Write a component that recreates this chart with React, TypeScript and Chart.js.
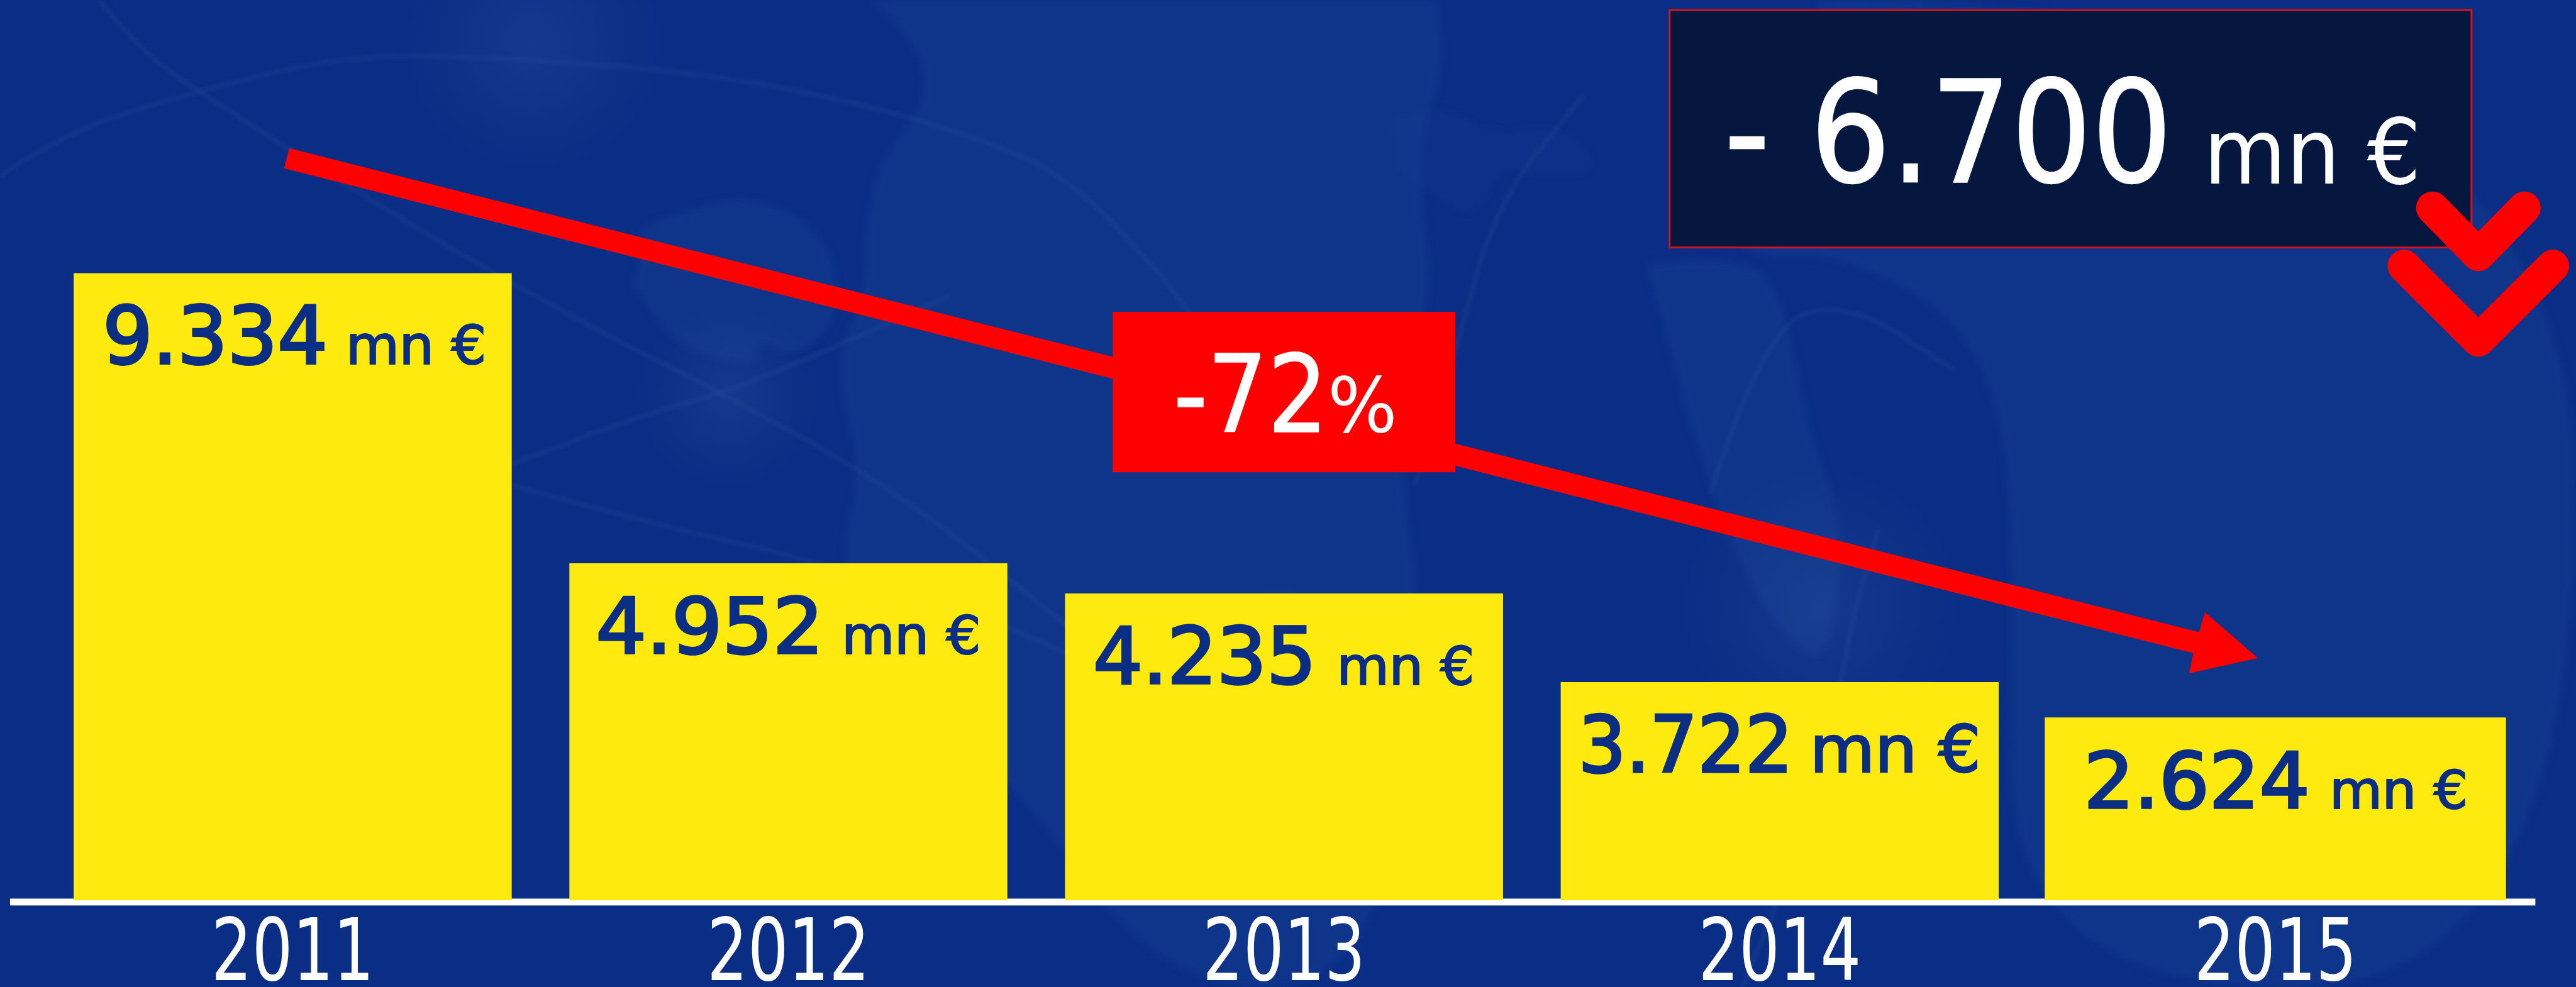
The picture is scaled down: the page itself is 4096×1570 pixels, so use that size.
import React, { useEffect, useRef } from "react";
import { Chart, registerables } from "chart.js";

Chart.register(...registerables);

const WIDTH = 4096;
const HEIGHT = 1570;
const S = 4096 / 4880;

// Data
const years = ["2011", "2012", "2013", "2014", "2015"];
const printedValues = ["9.334", "4.952", "4.235", "3.722", "2.624"];
const unitLabel = "mn €";
// Bar heights as drawn in the picture (they are not strictly proportional to the printed values)
const barHeights = [9334, 5013, 4565, 3245, 2719];
const axisMax = 13404;
const totalDrop = "- 6.700";
const percentDrop = "-72";
const percentSign = "%";

const FONT = '"DejaVu Sans Condensed"';

type Ctx = CanvasRenderingContext2D;

function fitText(ctx: Ctx, text: string, x0: number, x1: number, top: number, base: number, thick: number, color: string) {
  ctx.save();
  ctx.font = `normal 200px ${FONT}, "DejaVu Sans", sans-serif`;
  ctx.textBaseline = "alphabetic";
  ctx.textAlign = "left";
  ctx.fillStyle = color;
  ctx.strokeStyle = color;
  ctx.lineJoin = "miter";
  const m = ctx.measureText(text);
  const w = m.actualBoundingBoxRight + m.actualBoundingBoxLeft + thick;
  const h = m.actualBoundingBoxAscent + m.actualBoundingBoxDescent + thick;
  const sx = ((x1 - x0) * S) / w;
  const sy = ((base - top) * S) / h;
  ctx.translate(x0 * S + (m.actualBoundingBoxLeft + thick / 2) * sx, base * S - (m.actualBoundingBoxDescent + thick / 2) * sy);
  ctx.scale(sx, sy);
  ctx.fillText(text, 0, 0);
  if (thick > 0) {
    ctx.lineWidth = thick;
    ctx.strokeText(text, 0, 0);
  }
  ctx.restore();
}

function poly(ctx: Ctx, pts: number[][], smooth = true) {
  ctx.beginPath();
  ctx.moveTo(pts[0][0] * S, pts[0][1] * S);
  if (!smooth) {
    pts.slice(1).forEach((p) => ctx.lineTo(p[0] * S, p[1] * S));
    return;
  }
  for (let i = 1; i < pts.length - 1; i++) {
    const mx = ((pts[i][0] + pts[i + 1][0]) / 2) * S;
    const my = ((pts[i][1] + pts[i + 1][1]) / 2) * S;
    ctx.quadraticCurveTo(pts[i][0] * S, pts[i][1] * S, mx, my);
  }
  const l = pts[pts.length - 1];
  ctx.lineTo(l[0] * S, l[1] * S);
}

function glow(ctx: Ctx, x: number, y: number, r: number, color: string) {
  const g = ctx.createRadialGradient(x * S, y * S, 0, x * S, y * S, r * S);
  g.addColorStop(0, color);
  g.addColorStop(1, "rgba(60,100,170,0)");
  ctx.fillStyle = g;
  ctx.fillRect((x - r) * S, (y - r) * S, 2 * r * S, 2 * r * S);
}

const lands: number[][][] = [
  [[1650,0],[1720,60],[1760,160],[1720,240],[1670,300],[1640,420],[1640,560],[1580,680],[1630,900],[1590,1050],[1650,1300],[1900,1450],[2200,1871],[2600,1871],[2700,1200],[2640,800],[2720,560],[2680,300],[2740,120],[2720,0]],
  [[1220,430],[1350,375],[1480,385],[1580,470],[1590,610],[1500,680],[1430,640],[1440,700],[1280,660],[1200,540]],
  [[3120,500],[3300,480],[3380,560],[3420,800],[3500,1000],[3460,1300],[3300,1100],[3200,800]],
  [[3450,0],[4880,0],[4880,1871],[3800,1871],[3820,1000],[3760,640],[3500,480],[3280,490],[3200,300],[3400,150]],
];
const faintLands: number[][][] = [
  [[2640,230],[2720,190],[2830,260],[2960,230],[3040,330],[2900,330],[2840,310],[2800,420],[2700,360],[2650,320]],
];
const arcs: number[][][] = [
  [[0,334],[120,250],[373,173],[650,105],[934,107],[1350,140],[1634,197],[1850,260],[2023,334],[2200,520],[2256,597]],
  [[187,0],[260,90],[373,173],[800,440],[1100,610],[1369,746],[1712,936],[2100,1250]],
  [[970,880],[1200,790],[1369,746],[1600,650],[1800,560]],
  [[970,920],[1260,1000],[1500,1050],[1900,1180],[2100,1280]],
  [[2680,920],[2750,700],[2830,390],[3000,180]],
  [[3240,936],[3340,620],[3500,570],[3700,700]],
  [[3300,1871],[3460,1500],[3500,1200],[3560,1000]],
  [[2050,1500],[2200,1400],[2450,1280],[2600,1380],[2750,1500]],
];
const glows: number[][] = [
  [1010, 80, 240], [1380, 750, 170], [3450, 1150, 260], [2420, 1260, 150],
];

const backgroundPlugin = {
  id: "background",
  beforeDraw(chart: Chart) {
    const ctx = chart.ctx as Ctx;
    ctx.save();
    ctx.fillStyle = "#0a2e85";
    ctx.fillRect(0, 0, WIDTH, HEIGHT);
    ctx.filter = "blur(6px)";
    ctx.fillStyle = "rgba(30,70,155,0.3)";
    lands.forEach((p) => {
      poly(ctx, p);
      ctx.closePath();
      ctx.fill();
    });
    ctx.fillStyle = "rgba(30,70,155,0.16)";
    faintLands.forEach((p) => {
      poly(ctx, p);
      ctx.closePath();
      ctx.fill();
    });
    ctx.filter = "blur(3px)";
    ctx.strokeStyle = "rgba(70,108,180,0.2)";
    ctx.lineWidth = 5;
    arcs.forEach((p) => {
      poly(ctx, p);
      ctx.stroke();
    });
    ctx.filter = "none";
    glows.forEach((p) => glow(ctx, p[0], p[1], p[2], "rgba(60,100,170,0.2)"));
    ctx.restore();
  },
};

const baselinePlugin = {
  id: "baseline",
  beforeDatasetsDraw(chart: Chart) {
    const ctx = chart.ctx as Ctx;
    ctx.save();
    ctx.fillStyle = "#ffffff";
    ctx.fillRect(19 * S, 1703 * S, (4803 - 19) * S, 13 * S);
    ctx.restore();
  },
};

// Where each printed label sits, measured from its bar's top-left corner
const digitBoxes = [
  [61, 475, 57, 175], [54, 469, 59, 174], [57, 465, 58, 175], [41, 428, 57, 174], [82, 496, 59, 175],
];
const unitBoxes = [
  [523, 776, 96], [523, 774, 97], [522, 770, 97], [481, 789, 78], [547, 796, 97],
];
const NAVY = "#0b2e85";

const labelsPlugin = {
  id: "labels",
  afterDatasetsDraw(chart: Chart) {
    const ctx = chart.ctx as Ctx;
    years.forEach((_, i) => {
      const meta = chart.getDatasetMeta(i < 4 ? 0 : 1);
      const el: any = meta.data[i];
      const left = (el.x - el.width / 2) / S;
      const top = el.y / S;
      const d = digitBoxes[i];
      const u = unitBoxes[i];
      fitText(ctx, printedValues[i], left + d[0], left + d[1], top + d[2], top + d[3], 6, NAVY);
      fitText(ctx, unitLabel, left + u[0], left + u[1], top + u[2], top + d[3], 5, NAVY);
    });

    ctx.save();
    // trend arrow
    ctx.fillStyle = "#ff0000";
    poly(ctx, [[548,281],[4166,1198],[4177,1160],[4277,1247],[4147,1276],[4155,1238],[538,319]], false);
    ctx.closePath();
    ctx.fill();
    ctx.fillRect(2108 * S, 591 * S, 649 * S, 304 * S);

    // total box
    ctx.fillStyle = "#05173f";
    ctx.fillRect(3163 * S, 19 * S, 1519 * S, 450 * S);
    ctx.strokeStyle = "#d8101c";
    ctx.lineWidth = 3;
    ctx.strokeRect(3163 * S, 19 * S, 1519 * S, 450 * S);

    // chevrons
    ctx.strokeStyle = "#ff0000";
    ctx.lineCap = "round";
    ctx.lineJoin = "round";
    ctx.lineWidth = 62 * S;
    poly(ctx, [[4608,394],[4695,483],[4782,394]], false);
    ctx.stroke();
    poly(ctx, [[4554,504],[4695,645],[4836,504]], false);
    ctx.stroke();
    ctx.restore();

    fitText(ctx, percentDrop, 2230, 2499, 666, 820, 2, "#ffffff");
    fitText(ctx, percentSign, 2522, 2640, 711, 821, 0, "#ffffff");
    fitText(ctx, totalDrop, 3276, 4101, 145, 350, 2, "#ffffff");
    fitText(ctx, unitLabel, 4189, 4576, 220, 350, 0, "#ffffff");
  },
};

// The axis labels keep the library's positions; they are only drawn taller than the font's own proportions.
const TICK_STRETCH = 1.22;
const TICK_TOP = 1785 * S;

export default function App() {
  const ref = useRef<HTMLCanvasElement | null>(null);

  useEffect(() => {
    document.body.style.margin = "0";
    const canvas = ref.current;
    if (!canvas) return;
    const chart = new Chart(canvas, {
      type: "bar",
      data: {
        labels: years,
        datasets: [
          {
            data: [...barHeights.slice(0, 4), null],
            backgroundColor: "#ffea10",
            barThickness: 829 * S,
            grouped: false,
          },
          {
            data: [null, null, null, null, barHeights[4]],
            backgroundColor: "#ffea10",
            barThickness: 873 * S,
            grouped: false,
          },
        ] as any,
      },
      options: {
        responsive: false,
        animation: false,
        devicePixelRatio: 1,
        layout: { padding: { left: 85 * S, right: (4880 - 4780) * S, top: 0, bottom: 0 } },
        plugins: { legend: { display: false }, title: { display: false }, tooltip: { enabled: false } },
        scales: {
          y: { display: false, min: 0, max: axisMax },
          x: {
            grid: { display: false, drawTicks: false },
            border: { display: false },
            afterFit: (scale: any) => {
              scale.height = HEIGHT - 1706 * S;
              if (!scale.__tall) {
                scale.__tall = true;
                const draw = scale.drawLabels.bind(scale);
                scale.drawLabels = (area: any) => {
                  const c = scale.ctx as Ctx;
                  c.save();
                  c.translate(0, TICK_TOP);
                  c.scale(1, TICK_STRETCH);
                  c.translate(0, -TICK_TOP);
                  draw(area);
                  c.restore();
                };
              }
            },
            ticks: {
              color: "#ffffff",
              font: { family: FONT, size: 113, weight: "normal", lineHeight: 1 },
              padding: 30,
              maxRotation: 0,
              autoSkip: false,
            },
          },
        },
      },
      plugins: [backgroundPlugin, baselinePlugin, labelsPlugin],
    } as any);
    return () => chart.destroy();
  }, []);

  return (
    <div style={{ position: "fixed", left: 0, top: 0, width: WIDTH, height: HEIGHT, overflow: "hidden" }}>
      <canvas ref={ref} width={WIDTH} height={HEIGHT} style={{ display: "block", width: WIDTH, height: HEIGHT }} />
    </div>
  );
}
